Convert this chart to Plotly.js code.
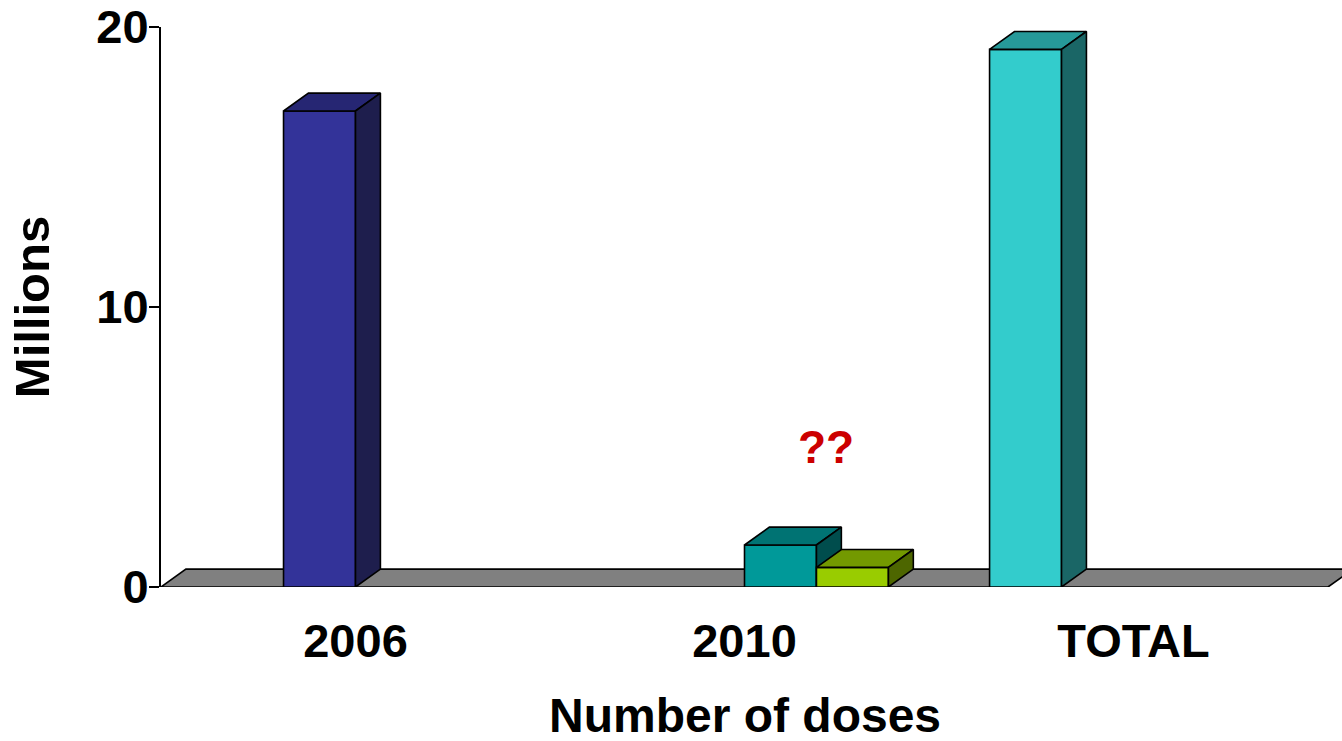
<!DOCTYPE html>
<html>
<head>
<meta charset="utf-8">
<script src="https://cdn.plot.ly/plotly-3.0.1.min.js"></script>
<style>
  html, body { margin: 0; padding: 0; background: #fff; }
  #chart { width: 1342px; height: 741px; }
</style>
</head>
<body>
<div id="chart"></div>
<script>
// categories on the x axis
const categories = ['2006', '2010', 'TOTAL'];

// one value per category for each series (millions of doses), null = no bar
const seriesTotal = [null, null, 19.2];
const series2006 = [17, null, null];
const series2010a = [null, 1.5, null];
const series2010b = [null, 0.7, null];

const yTicks = [0, 10, 20];

// series in the order Excel groups them inside a category
const allSeries = [
    { values: seriesTotal, front: '#33CCCC', top: '#269999', side: '#1A6666' },
    { values: series2006, front: '#333399', top: '#262673', side: '#1E1E4D' },
    { values: series2010a, front: '#009999', top: '#007373', side: '#004D4D' },
    { values: series2010b, front: '#99CC00', top: '#739900', side: '#4D6600' }
];

const barWidth = 0.185;     // width of one bar in category units
const depthX = 0.064;       // 3d depth offset, x units
const depthY = 0.64;        // 3d depth offset, y units
const xMax = 2.536;

let traces = [];

function face(xs, ys, color) {
    traces.push({
        x: xs, y: ys,
        type: 'scatter', mode: 'lines',
        fill: 'toself', fillcolor: color,
        line: { color: '#000', width: 1.6 },
        hoverinfo: 'skip', showlegend: false
    });
}

// grey floor
face([-0.5, 2.5, 2.5 + depthX, -0.5 + depthX, -0.5], [0, 0, depthY, depthY, 0], '#808080');

allSeries.forEach((s, k) => {
    let offset = (k - 2) * barWidth;
    s.values.forEach((v, i) => {
        if (v === null) return;
        let x0 = i + offset, x1 = x0 + barWidth;
        face([x0, x1, x1, x0, x0], [0, 0, v, v, 0], s.front);
        face([x0, x1, x1 + depthX, x0 + depthX, x0], [v, v, v + depthY, v + depthY, v], s.top);
        face([x1, x1 + depthX, x1 + depthX, x1, x1], [0, depthY, v + depthY, v, 0], s.side);
    });
});

const fam = 'Liberation Sans, Arial, sans-serif';
const tickFont = { family: fam, size: 47, color: '#000', weight: 700 };
const titleFont = { family: fam, size: 49, color: '#000', weight: 700 };

let layout = {
    width: 1342, height: 741,
    margin: { l: 161, r: 0, t: 27, b: 154 },
    paper_bgcolor: '#fff', plot_bgcolor: '#fff',
    showlegend: false,
    xaxis: {
        range: [-0.5, xMax],
        tickmode: 'array', tickvals: [0, 1, 2], ticktext: categories,
        showgrid: false, zeroline: false, showline: false, ticks: '',
        tickfont: tickFont, ticklabelstandoff: 22
    },
    yaxis: {
        range: [0, 20],
        tickmode: 'array', tickvals: yTicks,
        showgrid: false, zeroline: false,
        showline: true, linecolor: '#000', linewidth: 2,
        ticks: 'outside', ticklen: 10, tickwidth: 2, tickcolor: '#000',
        tickfont: tickFont, ticklabelstandoff: -9,
        title: { text: 'Millions', font: titleFont, standoff: 31 }
    },
    annotations: [{
        x: 1.21, y: 5, xref: 'x', yref: 'y',
        text: '??', showarrow: false,
        font: { family: fam, size: 46, color: '#CC0000', weight: 700 }
    }, {
        x: 1, y: -0.229, xref: 'x', yref: 'paper', yanchor: 'middle',
        text: 'Number of doses', showarrow: false,
        font: { family: fam, size: 48, color: '#000', weight: 700 }
    }]
};

Plotly.newPlot('chart', traces, layout, { displayModeBar: false, staticPlot: true });
</script>
</body>
</html>
